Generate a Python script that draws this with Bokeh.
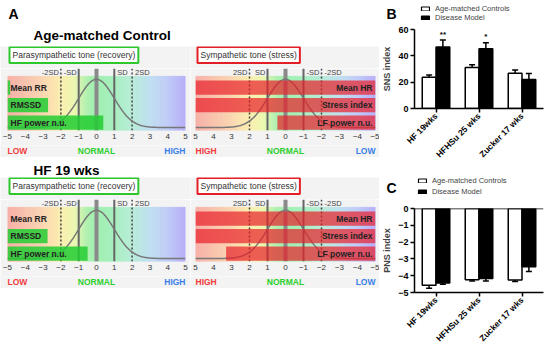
import numpy as np
from bokeh.plotting import figure
from bokeh.models import (Range1d, FactorRange, Label, Legend, LegendItem, Span,
                          ColumnDataSource, FixedTicker)
from bokeh.layouts import row, column
from bokeh.transform import dodge
from bokeh.core.properties import value
from bokeh.embed import file_html
from bokeh.resources import INLINE

FONT = "Liberation Sans"

# ---------------- data ----------------
para_rows = ["Mean RR", "RMSSD", "HF power n.u."]
symp_rows = ["Mean HR", "Stress index", "LF power n.u."]
ctrl_para = [-4.85, -2.72, 0.38]
ctrl_symp = [5.0, 5.0, 0.45]
hf19_para = [-5.0, -2.75, -0.5]
hf19_symp = [5.0, 5.0, 3.3]
gauge_ticks = [-5, -4, -3, -2, -1, 0, 1, 2, 3, 4, 5]
sd_pos = [-2, -1, 1, 2]
sd_labels = ["-2SD", "-SD", "SD", "2SD"]

groups = ["HF 19wks", "HFHSu 25 wks", "Zucker 17 wks"]
sns_ctrl = [23.8, 31.1, 26.7]
sns_ctrl_err = [1.6, 2.2, 2.5]
sns_dis = [46.8, 45.3, 22.0]
sns_dis_err = [5.3, 4.6, 4.5]
sns_sig = ["**", "*", ""]
pns_ctrl = [-4.57, -4.24, -4.25]
pns_ctrl_err = [0.17, 0.07, 0.10]
pns_dis = [-4.43, -4.17, -3.46]
pns_dis_err = [0.08, 0.14, 0.29]
sns_ticks = [0, 20, 40, 60]
pns_ticks = [-5, -4, -3, -2, -1, 0]

# ---------------- styles ----------------
PANEL_BG = "#f3f3f3"
GREEN_BAR = "#22cc33"
RED_BAR = "#e8202a"
grad_t = [0.0, 0.2, 0.3, 0.38, 0.45, 0.5, 0.6, 0.7, 0.8, 0.9, 1.0]
grad_rgb = [(248, 176, 168), (250, 214, 178), (252, 238, 176), (236, 248, 176),
            (176, 240, 176), (160, 240, 176), (168, 240, 192), (184, 236, 216),
            (192, 224, 240), (192, 204, 248), (184, 176, 248)]


def grad_colors(t):
    arr = np.array(grad_rgb, dtype=float)
    r = np.interp(t, grad_t, arr[:, 0])
    g = np.interp(t, grad_t, arr[:, 1])
    b = np.interp(t, grad_t, arr[:, 2])
    return ["#%02x%02x%02x" % (int(a), int(bb), int(c)) for a, bb, c in zip(r, g, b)]


def blank(width, height, xr, yr, bg="white"):
    p = figure(width=width, height=height, x_range=xr, y_range=yr, min_border=0,
               toolbar_location=None, output_backend="svg", x_axis_type=None,
               y_axis_type=None, background_fill_color=bg, border_fill_color=bg,
               frame_align=False)
    p.grid.visible = False
    p.outline_line_color = None
    return p


def gauge(vals, rows, symp, bl, fw, br, box_text, box_color):
    ppu = fw / 10.0
    x0, x1 = (5, -5) if symp else (-5, 5)
    sgn = -1 if symp else 1
    W = bl + fw + br
    ext = Range1d(x0 - sgn * bl / ppu, x1 + sgn * br / ppu)

    # top strip with the boxed caption
    top = blank(W, 22, ext, Range1d(0, 22), PANEL_BG)
    top.add_layout(Label(x=x0, y=13.5, x_offset=2, text=box_text, text_baseline="middle",
                         text_font=FONT, text_font_size="8.5px", text_color="#333333",
                         border_line_color=box_color, border_line_width=2,
                         background_fill_color="white", padding=3))

    # main gauge
    p = figure(width=W, height=77, x_range=Range1d(x0, x1), y_range=Range1d(-0.45, 3.1),
               min_border_left=bl, min_border_right=br, min_border_top=0,
               min_border_bottom=15, output_backend="svg", toolbar_location=None,
               background_fill_color=PANEL_BG, border_fill_color=PANEL_BG,
               frame_align=False)
    p.outline_line_color = None
    p.grid.visible = False
    p.yaxis.visible = False
    ax = p.xaxis[0]
    ax.ticker = FixedTicker(ticks=gauge_ticks)
    ax.axis_line_color = None
    ax.major_tick_line_color = None
    ax.major_tick_out = 0
    ax.minor_tick_line_color = None
    ax.minor_tick_out = 0
    ax.major_label_text_font = FONT
    ax.major_label_text_font_size = "8px"
    ax.major_label_text_color = "#333333"
    ax.major_label_standoff = 3

    n = 90
    t = np.linspace(0, 1, n + 1)
    xe = x0 + (x1 - x0) * t
    cols = grad_colors((t[:-1] + t[1:]) / 2)
    p.quad(left=xe[:-1], right=xe[1:], bottom=-0.45, top=2.65,
           fill_color=cols, line_color=cols, line_width=0.8)

    p.segment(x0=[0], y0=[-0.45], x1=[0], y1=[3.1], line_width=4, line_color="#8a8a8a")
    solid = [v for v in sd_pos if abs(v) == 1]
    dotted = [v for v in sd_pos if abs(v) == 2]
    p.segment(x0=solid, y0=-0.45, x1=solid, y1=3.1, line_width=2, line_color="#666666")
    p.segment(x0=dotted, y0=-0.45, x1=dotted, y1=3.1, line_width=1.5,
              line_color="#444444", line_dash="2 2")

    xs = np.linspace(-5, 5, 201)
    p.line(xs, -0.28 + 2.76 * np.exp(-xs ** 2 / 2), line_color="#777777", line_width=1.5)

    ys = [2, 1, 0]
    if symp:
        p.hbar(y=ys, left=vals, right=-5, height=0.82, fill_color=RED_BAR,
               fill_alpha=0.7, line_color=None)
    else:
        p.hbar(y=ys, left=-5, right=vals, height=0.82, fill_color=GREEN_BAR,
               fill_alpha=0.85, line_color=None)

    p.text(x=-5, y=ys, text=rows, x_offset=(-3 if symp else 3),
           text_align=("right" if symp else "left"), text_baseline="middle",
           text_font=value(FONT), text_font_style="bold", text_font_size="8.5px",
           text_color="#222222")

    left_side = [((v < 0) != symp) for v in sd_pos]
    lx = [v for v, l in zip(sd_pos, left_side) if l]
    lt = [s for s, l in zip(sd_labels, left_side) if l]
    rx = [v for v, l in zip(sd_pos, left_side) if not l]
    rt = [s for s, l in zip(sd_labels, left_side) if not l]
    common = dict(y=2.88, text_baseline="middle", text_font=value(FONT),
                  text_font_size="7.5px", text_color="#444444")
    p.text(x=lx, text=lt, x_offset=-2, text_align="right", **common)
    p.text(x=rx, text=rt, x_offset=3, text_align="left", **common)

    # bottom strip: LOW / NORMAL / HIGH
    bot = blank(W, 12, Range1d(ext.start, ext.end), Range1d(0, 12), PANEL_BG)
    lo_text, hi_text = ("HIGH", "LOW") if symp else ("LOW", "HIGH")
    lab = dict(y=6.5, text_baseline="middle", text_font=FONT, text_font_style="bold",
               text_font_size="8.5px")
    bot.add_layout(Label(x=x0, text=lo_text, text_align="left", text_color="#f23c3c", **lab))
    bot.add_layout(Label(x=0, text="NORMAL", text_align="center", text_color="#2ccf2c", **lab))
    bot.add_layout(Label(x=x1, text=hi_text, text_align="right", text_color="#3a7fe8", **lab))
    return column(top, p, bot)


def header(w, h, items):
    p = blank(w, h, Range1d(0, w), Range1d(0, h))
    for x, y, t, size in items:
        p.add_layout(Label(x=x, y=y, text=t, text_font=FONT, text_font_style="bold",
                           text_font_size=size, text_baseline="middle", text_color="black"))
    return p


head1 = header(379, 46, [(8, 32.5, "A", "14px"), (33, 11, "Age-matched Control", "13.5px")])
head2 = header(379, 20, [(33, 7.5, "HF 19 wks", "13.5px")])

PARA_BOX = "Parasympathetic tone (recovery)"
SYMP_BOX = "Sympathetic tone (stress)"
g1 = gauge(ctrl_para, para_rows, False, 7, 178, 5, PARA_BOX, "#2ec82e")
g2 = gauge(ctrl_symp, symp_rows, True, 5, 180, 4, SYMP_BOX, "#e21f26")
g3 = gauge(hf19_para, para_rows, False, 7, 178, 5, PARA_BOX, "#2ec82e")
g4 = gauge(hf19_symp, symp_rows, True, 5, 180, 4, SYMP_BOX, "#e21f26")


def style_bars(p, ylabel, yticks):
    p.outline_line_color = None
    p.grid.visible = False
    for ax in p.axis:
        ax.axis_line_width = 1.5
        ax.major_tick_line_width = 1.5
        ax.major_tick_out = 4
        ax.major_tick_in = 0
        ax.minor_tick_line_color = None
        ax.major_label_text_font = FONT
        ax.major_label_text_font_style = "bold"
        ax.major_label_text_font_size = "9px"
        ax.major_label_text_color = "black"
        ax.major_label_standoff = 2
    p.xaxis.major_label_text_font_size = "8.5px"
    p.yaxis.ticker = FixedTicker(ticks=yticks)
    p.yaxis.axis_label = ylabel
    p.yaxis.axis_label_text_font = FONT
    p.yaxis.axis_label_text_font_style = "bold"
    p.yaxis.axis_label_text_font_size = "9px"
    p.yaxis.axis_label_standoff = 3
    p.xaxis.major_label_orientation = np.pi / 4


def bar_panel(ctrl, ctrl_err, dis, dis_err, ylabel, yticks, yr, height, top, bottom,
              negative, sig=None):
    sign = -1 if negative else 1
    src = ColumnDataSource(dict(
        g=groups, c=ctrl, d=dis,
        c_e=[v + sign * e for v, e in zip(ctrl, ctrl_err)],
        d_e=[v + sign * e for v, e in zip(dis, dis_err)],
    ))
    p = figure(width=171, height=height, x_range=FactorRange(*groups), y_range=Range1d(*yr),
               min_border_left=34, min_border_right=7, min_border_top=top,
               min_border_bottom=bottom, output_backend="svg", toolbar_location=None,
               frame_align=False)
    xc = dodge("g", -0.16, range=p.x_range)
    xd = dodge("g", 0.16, range=p.x_range)
    if negative:
        p.vbar(x=xc, top=0, bottom="c", width=0.32, fill_color="white",
               line_color="black", line_width=1.5, source=src)
        p.vbar(x=xd, top=0, bottom="d", width=0.32, fill_color="black",
               line_color="black", line_width=1.5, source=src)
    else:
        p.vbar(x=xc, top="c", bottom=0, width=0.32, fill_color="white",
               line_color="black", line_width=1.5, source=src)
        p.vbar(x=xd, top="d", bottom=0, width=0.32, fill_color="black",
               line_color="black", line_width=1.5, source=src)
    for off, col, ecol in [(-0.16, "c", "c_e"), (0.16, "d", "d_e")]:
        p.segment(x0=dodge("g", off, range=p.x_range), y0=col,
                  x1=dodge("g", off, range=p.x_range), y1=ecol,
                  line_color="black", line_width=1.5, source=src)
        p.segment(x0=dodge("g", off - 0.07, range=p.x_range), y0=ecol,
                  x1=dodge("g", off + 0.07, range=p.x_range), y1=ecol,
                  line_color="black", line_width=1.5, source=src)
    if sig is not None:
        src.data["sig"] = sig
        src.data["sig_y"] = [v + 1.0 for v in src.data["d_e"]]
        p.text(x=xd, y="sig_y", text="sig", text_align="center", text_baseline="bottom",
               text_font=value(FONT), text_font_style="bold", text_font_size="8px",
               source=src)
    if negative:
        p.add_layout(Span(location=0, dimension="width", line_color="black", line_width=1.5))
    style_bars(p, ylabel, yticks)
    return p


def bar_header(height, letter, letter_y, leg_x, leg_y, spacing):
    h = blank(171, height, Range1d(0, 171), Range1d(0, height))
    h.add_layout(Label(x=7, y=letter_y, text=letter, text_font=FONT, text_font_style="bold",
                       text_font_size="14px", text_baseline="middle", text_color="black"))
    # legend-only renderers, kept outside the visible range
    rc = h.vbar(x=[-100], top=[0], bottom=[0], width=1, fill_color="white",
                line_color="black", line_width=1.2)
    rd = h.vbar(x=[-100], top=[0], bottom=[0], width=1, fill_color="black",
                line_color="black", line_width=1.2)
    leg = Legend(items=[LegendItem(label="Age-matched Controls", renderers=[rc]),
                        LegendItem(label="Disease Model", renderers=[rd])],
                 location=(leg_x, leg_y), orientation="vertical",
                 label_text_font=FONT, label_text_font_size="7.5px",
                 label_text_color="#444444", label_height=9, glyph_height=5,
                 glyph_width=10, spacing=spacing, padding=0, margin=0,
                 border_line_color=None, background_fill_alpha=0, label_standoff=5)
    h.add_layout(leg)
    return h


headB = bar_header(24, "B", 10.5, 41, 2, 0)
pB = bar_panel(sns_ctrl, sns_ctrl_err, sns_dis, sns_dis_err, "SNS index", sns_ticks,
               (0, 60), 141, 5, 54, False, sig=sns_sig)
headC = bar_header(35, "C", 12.5, 38, 4, 2)
pC = bar_panel(pns_ctrl, pns_ctrl_err, pns_dis, pns_dis_err, "PNS index", pns_ticks,
               (-5, 0), 149, 8, 55, True)

left = column(head1, row(g1, g2), head2, row(g3, g4))
right = column(headB, pB, headC, pC)
root = row(left, right)

open("out.html", "w").write(file_html(root, INLINE))
